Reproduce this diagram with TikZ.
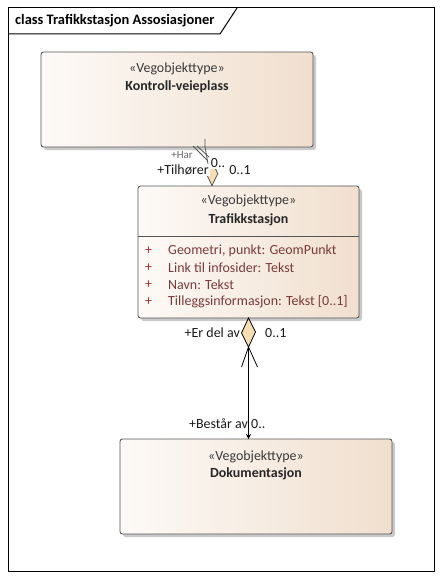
\documentclass[tikz,border=0pt]{standalone}
\usepackage{fontspec}
\setmainfont{Carlito}
\usetikzlibrary{shadows,shapes.geometric,arrows.meta}
\definecolor{boksv}{HTML}{FDFAF7}
\definecolor{boksh}{HTML}{F0DFCE}
\definecolor{kant}{HTML}{555555}
\definecolor{skygge}{HTML}{C9C9C9}
\definecolor{stereotekst}{HTML}{3A3A3A}
\definecolor{attrtekst}{HTML}{7A3A3A}
\definecolor{pluss}{HTML}{A03030}
\definecolor{rute}{HTML}{F6DDB3}
\newcommand{\umlfont}{\fontsize{14}{16}\selectfont}
\tikzset{
  klasse/.style={draw=kant, line width=0.9bp, rounded corners=2.5bp, left color=boksv, right color=boksh,
    drop shadow={shadow xshift=3bp, shadow yshift=-3bp, fill=skygge, opacity=1},
    inner sep=0pt, outer sep=0pt, anchor=north west},
  stereo/.style={text=stereotekst, font=\umlfont},
  navn/.style={text=black!85, font=\umlfont\bfseries},
  attr/.style={text=attrtekst, font=\umlfont, anchor=west, inner sep=0pt},
  rolle/.style={text=black!90, font=\umlfont, inner sep=1bp},
  assoc/.style={draw=black, line width=0.8bp}
}
\begin{document}
\begin{tikzpicture}[x=1bp,y=-1bp]
\useasboundingbox (0,0) rectangle (442,579);
% ramme
\draw[black, line width=1bp] (8,8) rectangle (434,571);
\draw[black, line width=1bp] (8,34) -- (220,34) -- (237,8);
\node[anchor=west, font=\fontsize{14.5}{16}\selectfont\bfseries, inner sep=0pt] (tittel) at (15,21) {class Trafikkstasjon Assosiasjoner};

% klasser
\node[klasse, minimum width=272bp, minimum height=95bp] (kontroll) at (41,52) {};
\node[stereo] (kstereo) at ([yshift=-17bp]kontroll.north) {«Vegobjekttype»};
\node[navn] (knavn) at ([yshift=-35bp]kontroll.north) {Kontroll-veieplass};

\node[klasse, minimum width=221bp, minimum height=132bp] (trafikk) at (138,186) {};
\node[stereo] (tstereo) at ([yshift=-15bp]trafikk.north) {«Vegobjekttype»};
\node[navn] (tnavn) at ([yshift=-34bp]trafikk.north) {Trafikkstasjon};
\draw[kant, line width=0.9bp] (trafikk.west |- 0,236) -- (trafikk.east |- 0,236);
\foreach \tekst [count=\i] in {{Geometri, punkt: GeomPunkt}, {Link til infosider: Tekst}, {Navn: Tekst}, {Tilleggsinformasjon: Tekst [0..1]}}{
  \node[attr, text=pluss] (pluss\i) at (145,234+17*\i) {+};
  \node[attr] (attr\i) at (168,234+17*\i) {\tekst};
}

\node[klasse, minimum width=272bp, minimum height=95bp] (dok) at (120,439) {};
\node[stereo] (dstereo) at ([yshift=-18bp]dok.north) {«Vegobjekttype»};
\node[navn] (dnavn) at ([yshift=-35bp]dok.north) {Dokumentasjon};

% Kontroll-veieplass -- Trafikkstasjon
\coordinate (har) at (205,147);
\coordinate (tilhorer) at (212,186);
\draw[kant, line width=0.8bp] (205,139) -- (har) -- (tilhorer);
\draw[kant, line width=0.8bp] (193,146) -- (207,160) (197,146) -- (209,157);
\node[diamond, draw=kant, fill=rute, line width=0.8bp, inner sep=0pt, minimum width=12bp, minimum height=24bp, anchor=south] (tdiamant) at (tilhorer) {};
\node[rolle, text=black!60, font=\fontsize{11}{12}\selectfont] (harrolle) at (182,155) {+Har};
\node[rolle, fill=white] (tilhrolle) at (183,170) {+Tilhører};
\node[rolle, fill=white] (harmult) at (218,163) {0..};
\node[rolle] (tilhmult) at (240,170) {0..1};

% Trafikkstasjon -- Dokumentasjon
\coordinate (diamantbunn) at ([yshift=-29bp]trafikk.south);
\draw[assoc, fill=rute] (trafikk.south) -- ++(-7,15) -- (diamantbunn) -- ++(7,-15) -- cycle;
\draw[assoc] ([xshift=-7bp,yshift=-20bp]diamantbunn) -- (diamantbunn) -- ([xshift=9bp,yshift=-20bp]diamantbunn);
\draw[assoc, -{Stealth[length=5bp,width=5bp]}] (diamantbunn) -- (trafikk.south |- dok.north);
\node[rolle, anchor=east] (erdelav) at (241,333) {+Er del av};
\node[rolle, anchor=west] (erdelmult) at (264,333) {0..1};
\node[rolle, anchor=east] (bestar) at (249,424) {+Består av};
\node[rolle, anchor=west] (bestarmult) at (250,424) {0..};
\end{tikzpicture}
\end{document}
